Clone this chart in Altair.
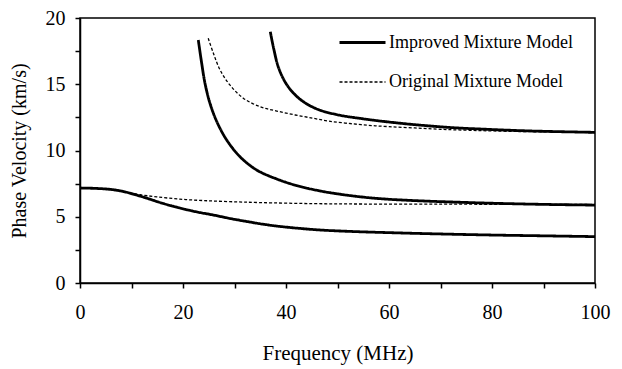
import altair as alt
import pandas as pd

# Dispersion curves: phase velocity (km/s) versus frequency (MHz)
imp0_x = [0, 3, 5.8, 8, 9.7, 12.9, 16, 19.4, 22.5, 25.9, 29, 32.4, 35.5, 38.8, 42.7, 46.6, 52, 60, 70, 80, 90, 100]
imp0_y = [7.17, 7.14, 7.07, 6.94, 6.78, 6.41, 6.02, 5.66, 5.38, 5.13, 4.88, 4.64, 4.44, 4.27, 4.12, 4.0, 3.9, 3.8, 3.7, 3.62, 3.56, 3.5]

imp1_x = [22.97, 23.63, 24.27, 25.24, 26.6, 28.49, 31.07, 34.3, 38.2, 42.1, 46.6, 50.5, 55, 59.5, 66, 72.5, 79, 85.4, 92, 100]
imp1_y = [18.34, 16.58, 15.07, 13.56, 12.15, 10.79, 9.53, 8.53, 7.85, 7.35, 6.95, 6.7, 6.48, 6.33, 6.2, 6.11, 6.03, 5.97, 5.92, 5.88]

imp2_x = [36.95, 37.6, 38.6, 40.2, 42.5, 45.7, 49.6, 54.8, 59.5, 65, 72.5, 79, 85.4, 92, 100]
imp2_y = [18.97, 17.71, 16.2, 14.94, 13.94, 13.18, 12.73, 12.4, 12.17, 11.95, 11.72, 11.6, 11.5, 11.43, 11.37]

orig0_x = [0, 3, 5.8, 8, 9.7, 11.7, 14.9, 19.4, 24, 29.1, 35, 45.3, 55, 70, 85, 100]
orig0_y = [7.17, 7.14, 7.07, 6.94, 6.8, 6.66, 6.5, 6.33, 6.22, 6.14, 6.07, 5.99, 5.96, 5.95, 5.94, 5.93]

orig1_x = [24.9, 25.9, 27.2, 29.1, 31.7, 35.0, 38.2, 41.8, 45.3, 48.3, 52, 56, 60, 65, 70, 76, 83, 91, 100]
orig1_y = [18.47, 17.34, 16.08, 14.95, 13.95, 13.3, 12.98, 12.68, 12.43, 12.22, 12.05, 11.9, 11.8, 11.7, 11.6, 11.52, 11.45, 11.4, 11.35]

models = ["Improved Mixture Model", "Original Mixture Model"]

curves = [
    ("imp0", models[0], imp0_x, imp0_y),
    ("imp1", models[0], imp1_x, imp1_y),
    ("imp2", models[0], imp2_x, imp2_y),
    ("orig0", models[1], orig0_x, orig0_y),
    ("orig1", models[1], orig1_x, orig1_y),
]

rows = []
for name, model, xs, ys in curves:
    for x, y in zip(xs, ys):
        rows.append({"curve": name, "model": model, "freq": x, "vel": y})
df = pd.DataFrame(rows)

FONT = "Liberation Serif"

x_ticks = list(range(0, 101, 10))
y_ticks = [0, 2.5, 5, 7.5, 10, 12.5, 15, 17.5, 20]

chart = alt.Chart(df).mark_line(
    color="black", strokeCap="butt", interpolate="catmull-rom"
).encode(
    x=alt.X(
        "freq:Q",
        scale=alt.Scale(domain=[0, 100], nice=False),
        axis=alt.Axis(
            title="Frequency (MHz)",
            values=x_ticks,
            labelExpr="datum.value % 20 == 0 ? datum.label : ''",
            labelFlush=False,
            labelPadding=14,
            titlePadding=20,
            titleFontSize=21,
        ),
    ),
    y=alt.Y(
        "vel:Q",
        scale=alt.Scale(domain=[0, 20], nice=False),
        axis=alt.Axis(
            title="Phase Velocity (km/s)",
            values=y_ticks,
            labelExpr="datum.value % 5 == 0 ? datum.label : ''",
            labelFlush=False,
            labelPadding=10,
            titlePadding=16,
            titleFontSize=20,
        ),
    ),
    detail="curve:N",
    strokeDash=alt.StrokeDash(
        "model:N",
        scale=alt.Scale(domain=models, range=[[1, 0], [3, 2]]),
        legend=alt.Legend(
            title=None,
            orient="none",
            legendX=258,
            legendY=0,
            symbolType="stroke",
            symbolSize=2116,
            symbolStrokeColor="black",
            labelFont=FONT,
            labelFontSize=18,
            labelColor="black",
            labelOffset=2,
            labelLimit=400,
            rowPadding=6,
            padding=0,
        ),
    ),
    strokeWidth=alt.StrokeWidth(
        "model:N",
        scale=alt.Scale(domain=models, range=[2.8, 1.3]),
        legend=None,
    ),
).properties(
    width=515,
    height=265,
    autosize=alt.AutoSizeParams(type="none"),
    padding={"left": 80, "top": 18, "right": 27, "bottom": 86},
    background="white",
).configure_view(
    stroke="black", strokeWidth=1.5
).configure_axis(
    grid=False,
    domainColor="black",
    domainWidth=1.5,
    tickColor="black",
    tickWidth=1.5,
    tickSize=5,
    labelFont=FONT,
    labelFontSize=20,
    labelColor="black",
    titleFont=FONT,
    titleFontWeight="normal",
    titleColor="black",
)

chart.save("out.html", embed_options={"renderer": "svg", "actions": False})
